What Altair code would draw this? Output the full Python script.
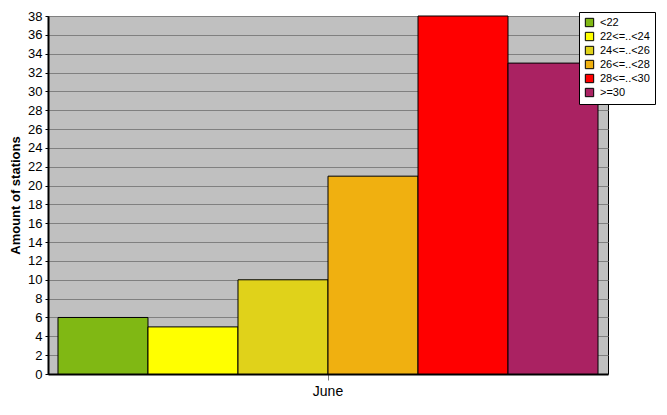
import altair as alt
import pandas as pd

classes = ["<22", "22<=..<24", "24<=..<26", "26<=..<28", "28<=..<30", ">=30"]
counts = [6, 5, 10, 21, 38, 33]
colors = ["#80B814", "#FFFF00", "#E0D21A", "#F0B010", "#FF0000", "#AA2262"]
month = "June"
y_ticks = list(range(0, 39, 2))

df = pd.DataFrame({"month": [month] * len(classes), "cls": classes, "count": counts})

FONT = "Liberation Sans"

chart = alt.Chart(df).mark_bar(stroke="black", strokeWidth=1).encode(
    x=alt.X("month:N", title=None,
            scale=alt.Scale(paddingInner=0, paddingOuter=0.0185),
            axis=alt.Axis(labelAngle=0, domainColor="black", domainWidth=2,
                          tickColor="#808080", tickSize=6, labelPadding=4,
                          labelFont=FONT, labelFontSize=14, labelColor="black")),
    xOffset=alt.XOffset("cls:N", sort=classes,
                        scale=alt.Scale(paddingInner=0, paddingOuter=0)),
    y=alt.Y("count:Q", title="Amount of stations",
            scale=alt.Scale(domain=[0, 38], nice=False),
            axis=alt.Axis(values=y_ticks, domainColor="black", domainWidth=2,
                          tickColor="black", tickSize=3, gridColor="#808080",
                          gridOpacity=1, labelFont=FONT, labelFontSize=13,
                          labelColor="black", labelPadding=3,
                          titleFont=FONT, titleFontSize=13, titleFontWeight="bold",
                          titleColor="black", titlePadding=5)),
    color=alt.Color("cls:N", sort=classes,
                    scale=alt.Scale(domain=classes, range=colors),
                    legend=alt.Legend(title=None, orient="none", legendX=531, legendY=-4,
                                      fillColor="white", strokeColor="black",
                                      padding=5, symbolType="square", symbolSize=70,
                                      symbolStrokeColor="black", symbolStrokeWidth=1,
                                      symbolOpacity=1, rowPadding=1,
                                      labelFont=FONT, labelFontSize=11, labelColor="black",
                                      labelOffset=5)),
).properties(
    width=560, height=358,
    autosize=alt.AutoSizeParams(type="none"),
    padding={"left": 40, "top": 8, "right": 51, "bottom": 28},
).configure_view(
    fill="#C0C0C0", stroke="black", strokeWidth=1
).configure_axis(
    grid=True
).configure_axisX(grid=False)

chart.save("out.html", embed_options={"renderer": "svg", "actions": False})
